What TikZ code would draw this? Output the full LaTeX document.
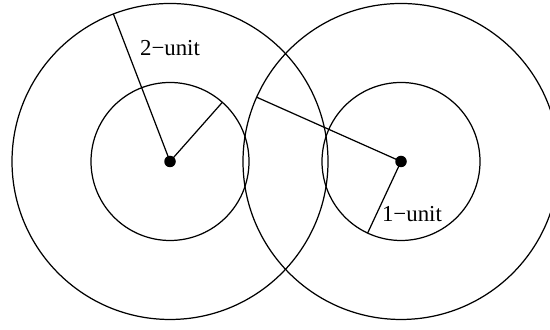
\documentclass[tikz,border=0pt]{standalone}
\usepackage{fontspec}
\setmainfont{Liberation Serif}
\usetikzlibrary{positioning}

\begin{document}
\begin{tikzpicture}[x=1.58cm,y=1.58cm,
  ring/.style={draw,line width=.7pt},
  spoke/.style={draw,line width=.7pt},
  hub/.style={circle,fill=black,inner sep=0pt,minimum size=.23cm},
  unitlbl/.style={font=\fontsize{13}{15}\selectfont,inner sep=0pt}]
  \useasboundingbox (-2.152,-2.133) rectangle (4.810,2.044);
  \clip (-2.152,-2.133) rectangle (4.810,2.044);
  \coordinate (lc) at (0,0);
  \coordinate (rc) at (2.924,0);
  % rings
  \draw[ring] (lc) circle (2); \draw[ring] (lc) circle (1);
  \draw[ring] (rc) circle (2); \draw[ring] (rc) circle (1);
  % radius ends
  \coordinate (lbig) at ([shift={(111:2)}]lc);
  \coordinate (lsmall) at ([shift={(48.5:1)}]lc);
  \coordinate (rbig) at ([shift={(156:2)}]rc);
  \coordinate (rsmall) at ([shift={(245:1)}]rc);
  \draw[spoke] (lc)--(lbig); \draw[spoke] (lc)--(lsmall);
  \draw[spoke] (rc)--(rbig); \draw[spoke] (rc)--(rsmall);
  \node[hub] (lhub) at (lc) {};
  \node[hub] (rhub) at (rc) {};
  \node[unitlbl] (two) at (0,1.437) {2−unit};
  \node[unitlbl] (one) at (3.063,-.665) {1−unit};
\end{tikzpicture}
\end{document}
